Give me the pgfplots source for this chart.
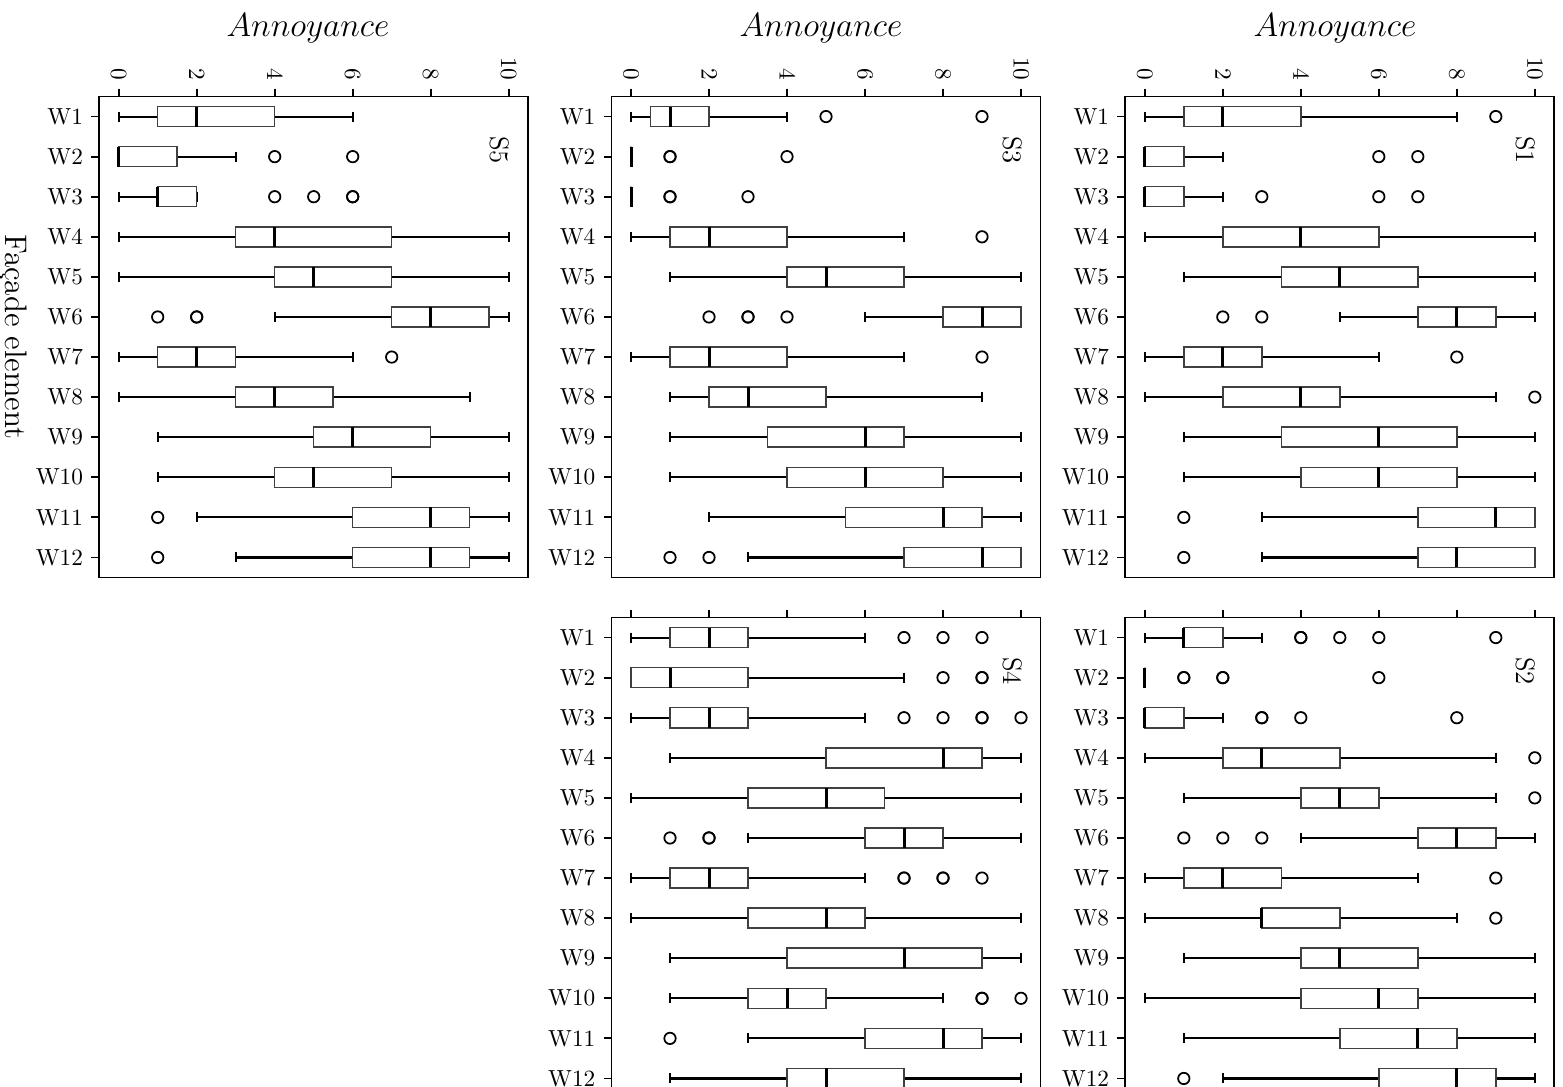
\documentclass[border=0pt]{standalone}
\usepackage{pgfplots}
\pgfplotsset{compat=1.18}
\usepgfplotslibrary{statistics}

\pgfplotsset{
  panel/.style={
    scale only axis, width=184.47pt, height=206.83pt,
    anchor=north west,
    xmin=-0.5, xmax=10.5, ymin=0.5, ymax=12.5, y dir=reverse,
    xtick={0,2,4,6,8,10}, ytick={1,2,3,4,5,6,7,8,9,10,11,12},
    yticklabels={W1,W2,W3,W4,W5,W6,W7,W8,W9,W10,W11,W12},
    xtick pos=right, xticklabel pos=right, ytick pos=left,
    tick align=outside, major tick length=3.44pt,
    every tick/.style={black, line width=0.8pt},
    axis line style={line width=0.8pt},
    xticklabel style={rotate=-90, anchor=east},
    boxplot/box extend=0.5, boxplot/whisker extend=0.25,
    boxplot/every box/.style={draw=black!75, line width=0.65pt},
    boxplot/every whisker/.style={black, line width=0.9pt},
    boxplot/every median/.style={black, line width=1.3pt},
  },
  bxs/.style={black, mark=o, mark size=2.45pt, mark options={line width=0.75pt, solid}},
}
\newcommand{\bx}[7]{\addplot[bxs, boxplot prepared={draw position=#1, lower whisker=#2, lower quartile=#3, median=#4, upper quartile=#5, upper whisker=#6}] coordinates {#7};}

\begin{document}
\begin{tikzpicture}
% S5
\begin{axis}[panel, at={(42.66pt,-41.50pt)}]
\bx{1}{0}{1}{2}{4}{6}{}
\bx{2}{0}{0}{0}{1.5}{3}{(0,4)(0,6)}
\bx{3}{0}{1}{1}{2}{2}{(0,4)(0,5)(0,6)(0,6)}
\bx{4}{0}{3}{4}{7}{10}{}
\bx{5}{0}{4}{5}{7}{10}{}
\bx{6}{4}{7}{8}{9.5}{10}{(0,1)(0,2)(0,2)}
\bx{7}{0}{1}{2}{3}{6}{(0,7)}
\bx{8}{0}{3}{4}{5.5}{9}{}
\bx{9}{1}{5}{6}{8}{10}{}
\bx{10}{1}{4}{5}{7}{10}{}
\bx{11}{2}{6}{8}{9}{10}{(0,1)}
\bx{12}{3}{6}{8}{9}{10}{(0,1)}
\end{axis}
% S3
\begin{axis}[panel, at={(262.95pt,-41.50pt)}]
\bx{1}{0}{0.5}{1}{2}{4}{(0,5)(0,9)}
\bx{2}{0}{0}{0}{0}{0}{(0,1)(0,1)(0,4)}
\bx{3}{0}{0}{0}{0}{0}{(0,1)(0,1)(0,3)}
\bx{4}{0}{1}{2}{4}{7}{(0,9)}
\bx{5}{1}{4}{5}{7}{10}{}
\bx{6}{6}{8}{9}{10}{10}{(0,2)(0,3)(0,3)(0,4)}
\bx{7}{0}{1}{2}{4}{7}{(0,9)}
\bx{8}{1}{2}{3}{5}{9}{}
\bx{9}{1}{3.5}{6}{7}{10}{}
\bx{10}{1}{4}{6}{8}{10}{}
\bx{11}{2}{5.5}{8}{9}{10}{}
\bx{12}{3}{7}{9}{10}{10}{(0,1)(0,2)}
\end{axis}
% S1
\begin{axis}[panel, at={(483.88pt,-41.50pt)}]
\bx{1}{0}{1}{2}{4}{8}{(0,9)}
\bx{2}{0}{0}{0}{1}{2}{(0,6)(0,7)}
\bx{3}{0}{0}{0}{1}{2}{(0,3)(0,6)(0,7)}
\bx{4}{0}{2}{4}{6}{10}{}
\bx{5}{1}{3.5}{5}{7}{10}{}
\bx{6}{5}{7}{8}{9}{10}{(0,2)(0,3)}
\bx{7}{0}{1}{2}{3}{6}{(0,8)}
\bx{8}{0}{2}{4}{5}{9}{(0,10)}
\bx{9}{1}{3.5}{6}{8}{10}{}
\bx{10}{1}{4}{6}{8}{10}{}
\bx{11}{3}{7}{9}{10}{10}{(0,1)}
\bx{12}{3}{7}{8}{10}{10}{(0,1)}
\end{axis}
% S4
\begin{axis}[panel, at={(262.95pt,-265.53pt)}, xticklabels={}]
\bx{1}{0}{1}{2}{3}{6}{(0,7)(0,8)(0,9)}
\bx{2}{0}{0}{1}{3}{7}{(0,8)(0,9)(0,9)}
\bx{3}{0}{1}{2}{3}{6}{(0,7)(0,8)(0,9)(0,9)(0,10)}
\bx{4}{1}{5}{8}{9}{10}{}
\bx{5}{0}{3}{5}{6.5}{10}{}
\bx{6}{3}{6}{7}{8}{10}{(0,1)(0,2)(0,2)}
\bx{7}{0}{1}{2}{3}{6}{(0,7)(0,7)(0,8)(0,8)(0,9)}
\bx{8}{0}{3}{5}{6}{10}{}
\bx{9}{1}{4}{7}{9}{10}{}
\bx{10}{1}{3}{4}{5}{8}{(0,9)(0,9)(0,10)}
\bx{11}{3}{6}{8}{9}{10}{(0,1)}
\bx{12}{1}{4}{5}{7}{10}{}
\end{axis}
% S2
\begin{axis}[panel, at={(483.88pt,-265.53pt)}, xticklabels={}]
\bx{1}{0}{1}{1}{2}{3}{(0,4)(0,4)(0,5)(0,6)(0,9)}
\bx{2}{0}{0}{0}{0}{0}{(0,1)(0,1)(0,2)(0,2)(0,6)}
\bx{3}{0}{0}{0}{1}{2}{(0,3)(0,3)(0,4)(0,8)}
\bx{4}{0}{2}{3}{5}{9}{(0,10)}
\bx{5}{1}{4}{5}{6}{9}{(0,10)}
\bx{6}{4}{7}{8}{9}{10}{(0,1)(0,2)(0,3)}
\bx{7}{0}{1}{2}{3.5}{7}{(0,9)}
\bx{8}{0}{3}{3}{5}{8}{(0,9)}
\bx{9}{1}{4}{5}{7}{10}{}
\bx{10}{0}{4}{6}{7}{10}{}
\bx{11}{1}{5}{7}{8}{10}{}
\bx{12}{2}{6}{8}{9}{10}{(0,1)}
\end{axis}
% titles
\node[font=\fontsize{14}{17}\selectfont] at (132.44pt,-12.26pt) {$Annoyance$};
\node[font=\fontsize{14}{17}\selectfont] at (353.03pt,-12.26pt) {$Annoyance$};
\node[font=\fontsize{14}{17}\selectfont] at (574.05pt,-12.26pt) {$Annoyance$};
% panel labels
\node[rotate=-90, font=\fontsize{11.5}{14}\selectfont] at (214.8pt,-64.5pt) {S5};
\node[rotate=-90, font=\fontsize{11.5}{14}\selectfont] at (435.4pt,-64.5pt) {S3};
\node[rotate=-90, font=\fontsize{11.5}{14}\selectfont] at (656.2pt,-64.5pt) {S1};
\node[rotate=-90, font=\fontsize{11.5}{14}\selectfont] at (435.4pt,-288.6pt) {S4};
\node[rotate=-90, font=\fontsize{11.5}{14}\selectfont] at (656.2pt,-288.6pt) {S2};
% y label
\node[rotate=-90, font=\fontsize{13.4}{16}\selectfont] at (5.72pt,-144.91pt) {Fa\c{c}ade element};
\pgfresetboundingbox
\useasboundingbox (0,0) rectangle (672.09pt,-467.41pt);
\end{tikzpicture}
\end{document}
